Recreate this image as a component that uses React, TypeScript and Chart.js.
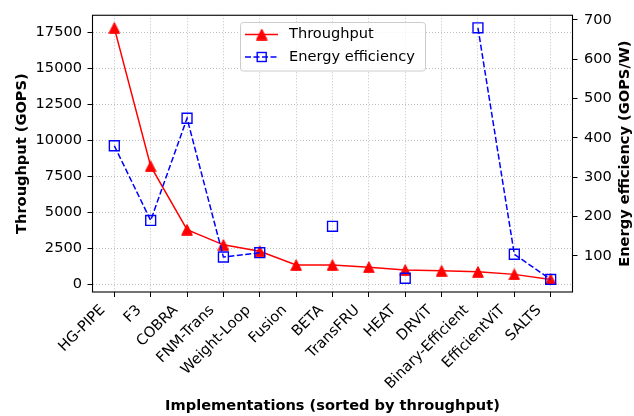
import React, { useEffect, useRef } from "react";
import { Chart, registerables } from "chart.js";

Chart.register(...registerables);

const categories = [
  "HG-PIPE", "F3", "COBRA", "FNM-Trans", "Weight-Loop", "Fusion", "BETA",
  "TransFRU", "HEAT", "DRViT", "Binary-Efficient", "EfficientViT", "SALTS",
];
const throughput = [17800, 8200, 3800, 2750, 2300, 1350, 1350, 1200, 1000, 950, 880, 700, 350];
const energyEfficiency: (number | null)[] = [380, 190, 450, 97, 108, null, 175, null, 43, null, 680, 104, 40];
const throughputTicks = [0, 2500, 5000, 7500, 10000, 12500, 15000, 17500];
const energyTicks = [100, 200, 300, 400, 500, 600, 700];

const FONT = "DejaVu Sans";
const FS = 14.6;
const RED = "#ff0000";
const BLUE = "#0000ff";

function paddedRange(values: (number | null)[]) {
  const v = values.filter((x): x is number => x !== null);
  const lo = Math.min(...v);
  const hi = Math.max(...v);
  const m = (hi - lo) * 0.05;
  return [lo - m, hi + m];
}

function makeTriangle(): HTMLCanvasElement {
  const c = document.createElement("canvas");
  c.width = 12;
  c.height = 12;
  const g = c.getContext("2d")!;
  g.beginPath();
  g.moveTo(6, 0.7);
  g.lineTo(0.7, 11.3);
  g.lineTo(11.3, 11.3);
  g.closePath();
  g.fillStyle = RED;
  g.fill();
  g.strokeStyle = RED;
  g.lineWidth = 1;
  g.stroke();
  return c;
}

export default function App() {
  const ref = useRef<HTMLCanvasElement>(null);

  useEffect(() => {
    const tri = makeTriangle();
    const [tMin, tMax] = paddedRange(throughput);
    const [eMin, eMax] = paddedRange(energyEfficiency);
    const xPad = (categories.length - 1) * 0.05;

    const framePlugin = {
      id: "frame",
      afterDraw(chart: any) {
        const { ctx, chartArea: a } = chart;
        ctx.save();
        ctx.strokeStyle = "#000";
        ctx.lineWidth = 1.1;
        ctx.strokeRect(a.left, a.top, a.right - a.left, a.bottom - a.top);
        ctx.restore();
      },
    };

    const extrasPlugin = {
      id: "extras",
      afterDraw(chart: any) {
        const ctx = chart.ctx as CanvasRenderingContext2D;
        const a = chart.chartArea;
        ctx.save();
        // right axis title (reads bottom-to-top)
        ctx.translate(625, (a.top + a.bottom) / 2);
        ctx.rotate(-Math.PI / 2);
        ctx.font = `bold ${FS}px "${FONT}"`;
        ctx.fillStyle = "#000";
        ctx.textAlign = "center";
        ctx.textBaseline = "middle";
        ctx.fillText("Energy efficiency (GOPS/W)", 0, 0);
        ctx.restore();

        // legend
        ctx.save();
        const x0 = 240.5, y0 = 22.5, w = 185, h = 48.5;
        ctx.beginPath();
        (ctx as any).roundRect(x0, y0, w, h, 3);
        ctx.fillStyle = "rgba(255,255,255,0.8)";
        ctx.fill();
        ctx.strokeStyle = "#cccccc";
        ctx.lineWidth = 1;
        ctx.stroke();

        const hx1 = 245, hx2 = 278, hc = 261.7;
        const r1 = 34.5, r2 = 57;
        ctx.strokeStyle = RED;
        ctx.lineWidth = 1.5;
        ctx.beginPath();
        ctx.moveTo(hx1, r1);
        ctx.lineTo(hx2, r1);
        ctx.stroke();
        ctx.drawImage(tri, hc - 6, r1 - 6);

        ctx.strokeStyle = BLUE;
        ctx.setLineDash([6, 2.5]);
        ctx.beginPath();
        ctx.moveTo(hx1, r2);
        ctx.lineTo(hx2, r2);
        ctx.stroke();
        ctx.setLineDash([]);
        ctx.lineWidth = 1.4;
        ctx.strokeRect(hc - 4.5, r2 - 4.5, 9, 9);

        ctx.fillStyle = "#000";
        ctx.font = `${FS}px "${FONT}"`;
        ctx.textAlign = "left";
        ctx.textBaseline = "middle";
        ctx.fillText("Throughput", 289, r1);
        ctx.fillText("Energy efficiency", 289, r2);
        ctx.restore();
      },
    };

    const tickFont = { family: FONT, size: FS };
    const titleFont = { family: FONT, size: FS, weight: "bold" as const };

    const chart = new Chart(ref.current!, {
      type: "line",
      data: {
        datasets: [
          {
            label: "Throughput",
            data: throughput.map((v, i) => ({ x: i, y: v })),
            yAxisID: "y",
            borderColor: RED,
            backgroundColor: RED,
            borderWidth: 1.5,
            pointStyle: tri as any,
            pointRadius: 6,
            tension: 0,
            order: 1,
          },
          {
            label: "Energy efficiency",
            data: energyEfficiency.map((v, i) => ({ x: i, y: v })),
            yAxisID: "y1",
            borderColor: BLUE,
            backgroundColor: "rgba(0,0,0,0)",
            borderWidth: 1.5,
            borderDash: [6, 2.5],
            pointStyle: "rect",
            pointRadius: 7,
            pointBorderWidth: 1.4,
            pointBorderColor: BLUE,
            pointBackgroundColor: "rgba(0,0,0,0)",
            spanGaps: false,
            tension: 0,
            order: 0,
          },
        ],
      },
      options: {
        responsive: false,
        animation: false,
        devicePixelRatio: 1,
        layout: { padding: { top: 14, left: 0, right: 0, bottom: 0 } },
        plugins: { legend: { display: false }, tooltip: { enabled: false } },
        scales: {
          x: {
            type: "linear",
            min: -xPad,
            max: categories.length - 1 + xPad,
            afterBuildTicks: (s: any) => {
              s.ticks = categories.map((_, i) => ({ value: i }));
            },
            afterFit: (s: any) => {
              s.height = 124;
            },
            ticks: {
              callback: (v: any) => categories[v] ?? "",
              autoSkip: false,
              minRotation: 45,
              maxRotation: 45,
              font: tickFont,
              color: "#000",
              padding: 4.7,
              labelOffset: -11.5,
            },
            grid: {
              color: "#b0b0b0",
              lineWidth: 0.8,
              tickColor: "#000",
              tickWidth: 1,
              tickLength: 5,
              tickBorderDash: [],
            },
            border: { display: false, dash: [1, 2] },
            title: {
              display: true,
              text: "Implementations (sorted by throughput)",
              font: titleFont,
              color: "#000",
              padding: { top: 0, bottom: 1 },
            },
          },
          y: {
            type: "linear",
            position: "left",
            min: tMin,
            max: tMax,
            afterBuildTicks: (s: any) => {
              s.ticks = throughputTicks.map((v) => ({ value: v }));
            },
            afterFit: (s: any) => {
              s.width = 92.5;
            },
            ticks: {
              callback: (v: any) => String(v),
              font: tickFont,
              color: "#000",
              padding: 5.5,
            },
            grid: {
              color: "#b0b0b0",
              lineWidth: 0.8,
              tickColor: "#000",
              tickWidth: 1,
              tickLength: 5,
              tickBorderDash: [],
            },
            border: { display: false, dash: [1, 2] },
            title: {
              display: true,
              text: "Throughput (GOPS)",
              font: titleFont,
              color: "#000",
              padding: { top: 13, bottom: 0 },
            },
          },
          y1: {
            type: "linear",
            position: "right",
            min: eMin,
            max: eMax,
            afterBuildTicks: (s: any) => {
              s.ticks = energyTicks.map((v) => ({ value: v }));
            },
            afterFit: (s: any) => {
              s.width = 61.5;
            },
            ticks: {
              callback: (v: any) => String(v),
              font: tickFont,
              color: "#000",
              padding: 6.5,
            },
            grid: {
              drawOnChartArea: false,
              color: "#000",
              tickColor: "#000",
              tickWidth: 1,
              tickLength: 5,
            },
            border: { display: false },
          },
        },
      },
      plugins: [framePlugin, extrasPlugin],
    });

    return () => chart.destroy();
  }, []);

  return (
    <div style={{ position: "absolute", left: 0, top: 0, width: 634, height: 416, background: "#fff" }}>
      <canvas ref={ref} width={634} height={416} style={{ display: "block" }} />
    </div>
  );
}
